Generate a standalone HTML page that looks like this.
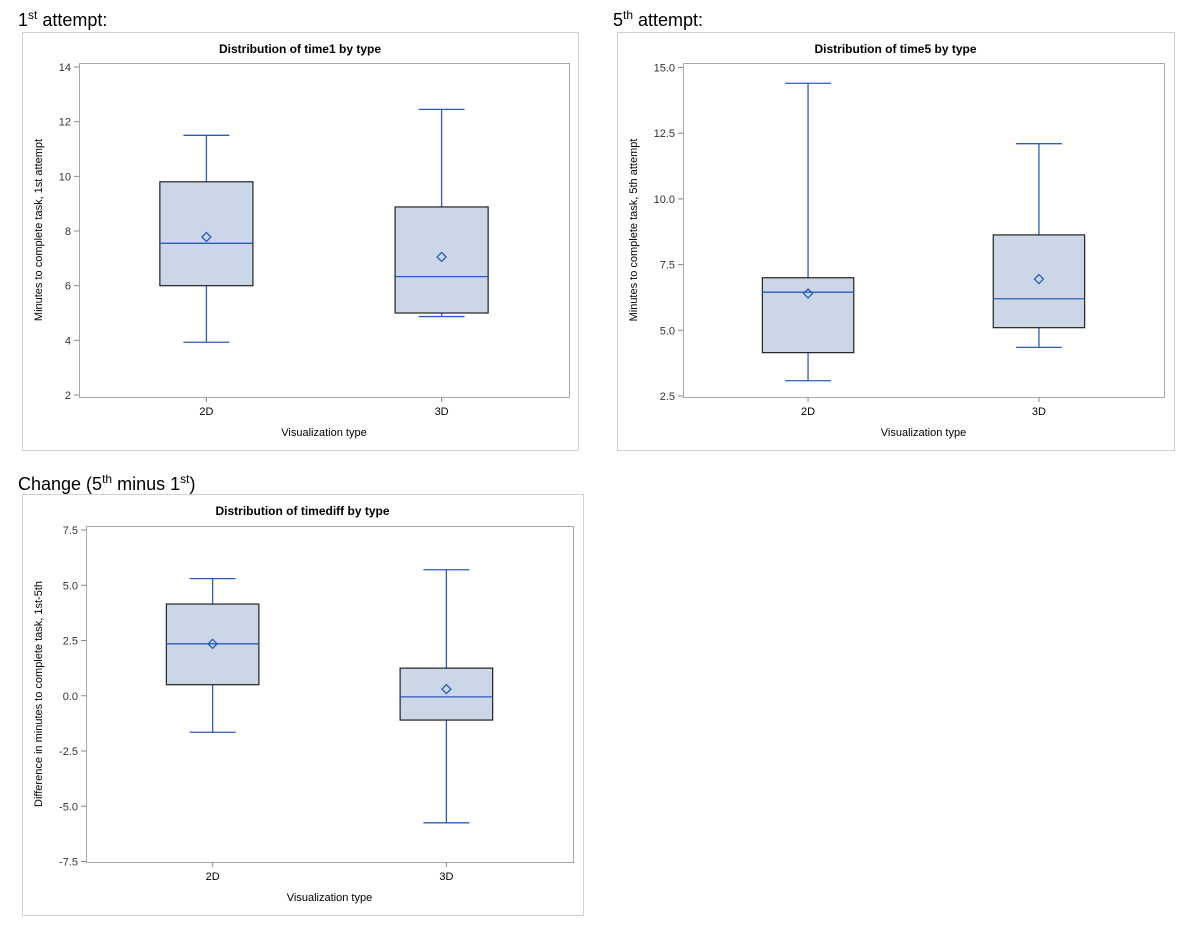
<!DOCTYPE html>
<html><head><meta charset="utf-8"><style>
html,body{margin:0;padding:0;background:#fff;}
svg{display:block;font-family:"Liberation Sans",Arial,sans-serif;}
</style></head><body>
<svg id="root" width="1189" height="931" viewBox="0 0 1189 931">
<text x="18" y="26" font-size="18" fill="#000">1<tspan dy="-7" font-size="12">st</tspan><tspan dy="7"> attempt:</tspan></text>
<text x="613" y="26" font-size="18" fill="#000">5<tspan dy="-7" font-size="12">th</tspan><tspan dy="7"> attempt:</tspan></text>
<text x="18" y="490" font-size="18" fill="#000">Change (5<tspan dy="-7" font-size="12">th</tspan><tspan dy="7"> minus 1</tspan><tspan dy="-7" font-size="12">st</tspan><tspan dy="7">)</tspan></text>
</svg>
<script>
const categories = ["2D", "3D"];
// time1
const t1Min = [3.93, 4.87], t1Q1 = [6.0, 5.0], t1Med = [7.55, 6.33], t1Q3 = [9.8, 8.88], t1Max = [11.5, 12.45], t1Mean = [7.78, 7.05];
const t1Ticks = ["2","4","6","8","10","12","14"];
// time5
const t5Min = [3.08, 4.35], t5Q1 = [4.15, 5.1], t5Med = [6.45, 6.2], t5Q3 = [7.0, 8.63], t5Max = [14.4, 12.1], t5Mean = [6.4, 6.95];
const t5Ticks = ["2.5","5.0","7.5","10.0","12.5","15.0"];
// timediff
const tdMin = [-1.65, -5.75], tdQ1 = [0.5, -1.1], tdMed = [2.35, -0.05], tdQ3 = [4.15, 1.25], tdMax = [5.3, 5.7], tdMean = [2.35, 0.3];
const tdTicks = ["-7.5","-5.0","-2.5","0.0","2.5","5.0","7.5"];

const NS = "http://www.w3.org/2000/svg";
const root = document.getElementById("root");
function mk(tag, attrs, parent){const e=document.createElementNS(NS,tag);for(const k in attrs)e.setAttribute(k,attrs[k]);(parent||root).appendChild(e);return e;}

function panel(cfg){
  const g = mk("g",{});
  
  
  const fr = mk("rect",{x:cfg.fx+0.5,y:cfg.fy+0.5,width:cfg.fw,height:cfg.fh,fill:"#fff",stroke:"#d0d0d0"},g);
  
  
  const L=cfg.px, T=cfg.py, R=cfg.px+cfg.pw, B=cfg.py+cfg.ph;
  const pa = mk("rect",{x:L+0.5,y:T+0.5,width:cfg.pw,height:cfg.ph,fill:"#fff",stroke:"#a8a8a8"},g);
  
  
  const y = v => cfg.y0px + (v - cfg.vmin) * (cfg.y1px - cfg.y0px) / (cfg.vmax - cfg.vmin);
  const xs = [L + cfg.pw*0.26, L + cfg.pw*0.74];
  const title = mk("text",{x:(cfg.fx+cfg.fx+cfg.fw)/2,y:cfg.fy+21,"font-size":12,"font-weight":"bold","text-anchor":"middle",fill:"#000"},g);
  title.textContent = cfg.title;
  
  
  cfg.ticks.forEach(t=>{
    const yy = y(parseFloat(t));
    mk("line",{x1:L-5,x2:L,y1:yy,y2:yy,stroke:"#888"},g);
    const tx = mk("text",{x:L-8,y:yy+4,"font-size":11,"text-anchor":"end",fill:"#333"},g);
    tx.textContent = t;
    
    
  });
  const yl = mk("text",{transform:`translate(${cfg.fx+20},${(T+B)/2}) rotate(-90)`,"font-size":11,"text-anchor":"middle",fill:"#000"},g);
  yl.textContent = cfg.ylabel;
  
  
  const xl = mk("text",{x:(L+R)/2,y:B+39,"font-size":11,"text-anchor":"middle",fill:"#000"},g);
  xl.textContent = "Visualization type";
  
  
  const hw = cfg.pw*0.095, cw = 23;
  categories.forEach((c,i)=>{
    const x = xs[i];
    mk("line",{x1:x,x2:x,y1:B,y2:B+5,stroke:"#888"},g);
    const ct = mk("text",{x:x,y:B+18,"font-size":11,"text-anchor":"middle",fill:"#000"},g);
    ct.textContent = c;
    
    
    const bg = mk("g",{},g);
    
    
    const col = "#2a5cbf";
    mk("line",{x1:x,x2:x,y1:y(cfg.max[i]),y2:y(cfg.q3[i]),stroke:col,"stroke-width":1.3},bg);
    mk("line",{x1:x,x2:x,y1:y(cfg.q1[i]),y2:y(cfg.min[i]),stroke:col,"stroke-width":1.3},bg);
    mk("line",{x1:x-cw,x2:x+cw,y1:y(cfg.max[i]),y2:y(cfg.max[i]),stroke:col,"stroke-width":1.3},bg);
    mk("line",{x1:x-cw,x2:x+cw,y1:y(cfg.min[i]),y2:y(cfg.min[i]),stroke:col,"stroke-width":1.3},bg);
    mk("rect",{x:x-hw,y:y(cfg.q3[i]),width:2*hw,height:y(cfg.q1[i])-y(cfg.q3[i]),fill:"#cbd6e6",stroke:"#222","stroke-width":1.2},bg);
    mk("line",{x1:x-hw,x2:x+hw,y1:y(cfg.med[i]),y2:y(cfg.med[i]),stroke:col,"stroke-width":1.3},bg);
    const my = y(cfg.mean[i]);
    mk("path",{d:`M${x} ${my-4.5}L${x+4.5} ${my}L${x} ${my+4.5}L${x-4.5} ${my}Z`,fill:"none",stroke:col,"stroke-width":1.3},bg);
  });
}

panel({name:"chart-time1",title:"Distribution of time1 by type",ylabel:"Minutes to complete task, 1st attempt",
  fx:22,fy:32,fw:556,fh:418,px:79,py:63,pw:490,ph:334,vmin:2,vmax:14,y0px:395,y1px:67,ticks:t1Ticks,
  min:t1Min,q1:t1Q1,med:t1Med,q3:t1Q3,max:t1Max,mean:t1Mean});
panel({name:"chart-time5",title:"Distribution of time5 by type",ylabel:"Minutes to complete task, 5th attempt",
  fx:617,fy:32,fw:557,fh:418,px:683,py:63,pw:481,ph:334,vmin:2.5,vmax:15,y0px:396,y1px:67.5,ticks:t5Ticks,
  min:t5Min,q1:t5Q1,med:t5Med,q3:t5Q3,max:t5Max,mean:t5Mean});
panel({name:"chart-timediff",title:"Distribution of timediff by type",ylabel:"Difference in minutes to complete task, 1st-5th",
  fx:22,fy:494,fw:561,fh:421,px:86,py:526,pw:487,ph:336,vmin:-7.5,vmax:7.5,y0px:861.5,y1px:530,ticks:tdTicks,
  min:tdMin,q1:tdQ1,med:tdMed,q3:tdQ3,max:tdMax,mean:tdMean});
</script>
</body></html>
